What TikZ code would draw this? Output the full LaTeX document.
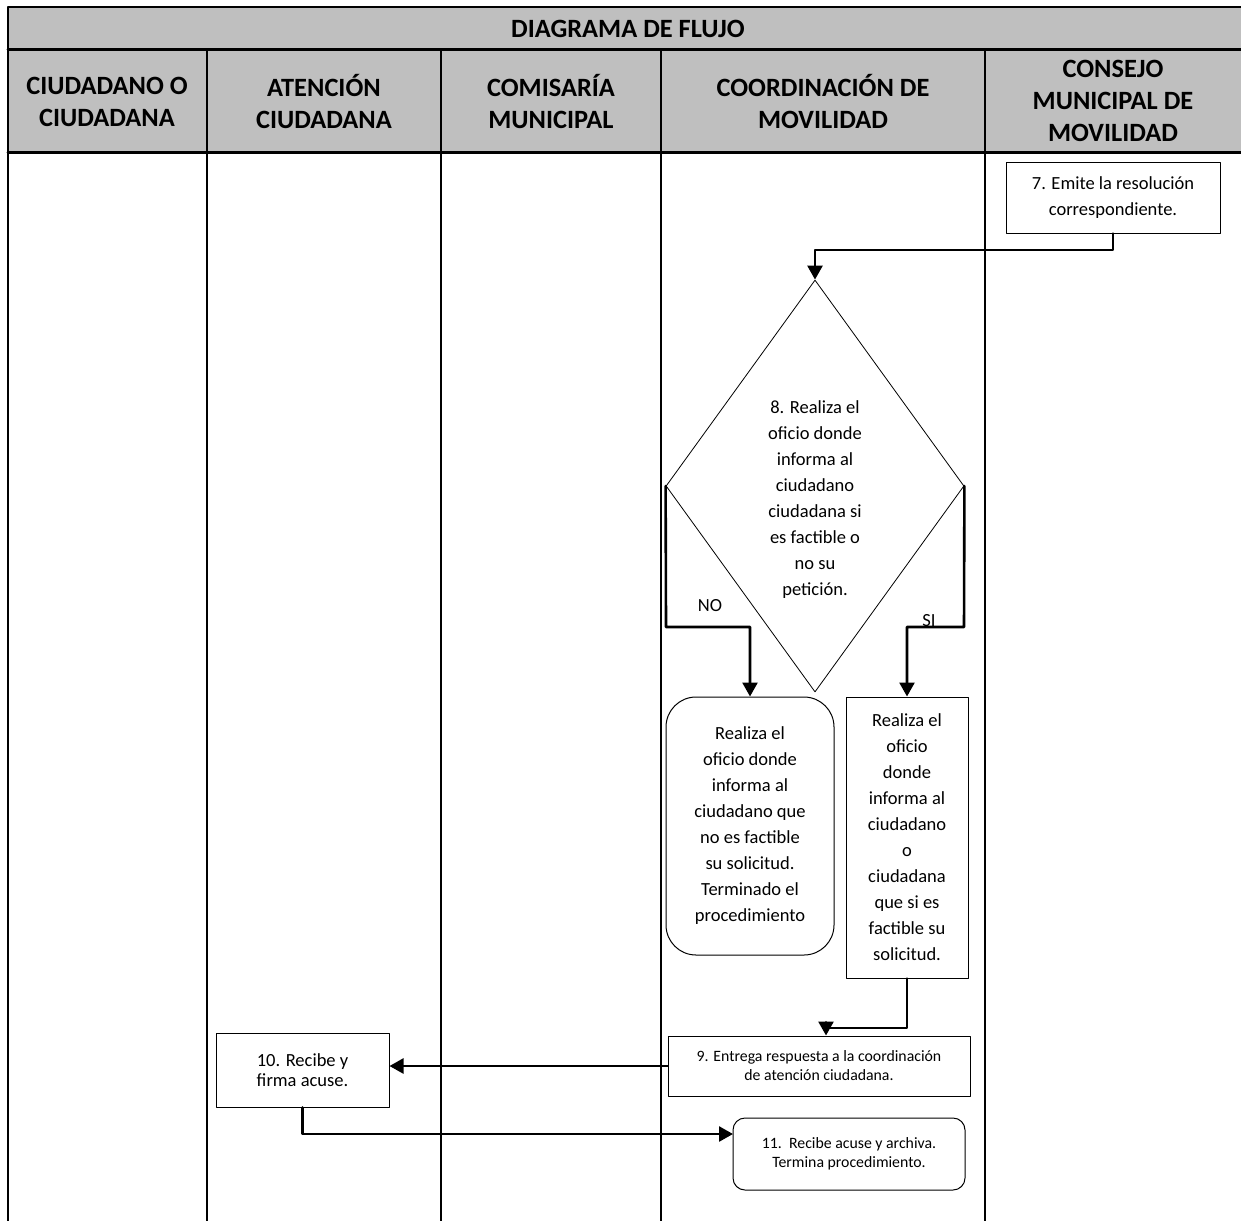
\documentclass[tikz,border=0pt]{standalone}
\usepackage{fontspec}
\setmainfont{Carlito}
\usepackage{xcolor}
\usetikzlibrary{arrows.meta, calc, shapes.geometric}
\definecolor{cabecera}{RGB}{191,191,191}

\begin{document}
\begin{tikzpicture}[x=0.5pt, y=-0.5pt, line cap=round, line join=round,
	tit/.style={font=\fontsize{13.2}{16}\selectfont\bfseries, align=center},
	caja/.style={draw, line width=0.5pt, align=center, inner sep=0pt, font=\fontsize{9.25}{13}\selectfont},
	chica/.style={caja, font=\fontsize{7.9}{9.5}\selectfont},
	etiqueta/.style={font=\fontsize{9.25}{13}\selectfont, inner sep=0pt, align=center},
	flecha/.style={line width=1.3pt, -{Triangle[length=7pt, width=7.5pt]}}]
				\clip (0,0) rectangle (1241,1220);
				\fill[cabecera] (8,7) rectangle (1250,152);
				\draw[line width=1pt] (8,1230)--(8,7)--(1250,7);
				\draw[line width=1.5pt] (8,50)--(1250,50) (8,152)--(1250,152);
				\draw[line width=1pt] (207,50)--(207,1230) (441,50)--(441,1230)
					(661,50)--(661,1230) (985,50)--(985,1230);
				
				\node[tit] (titulo) at (628,29) {DIAGRAMA DE FLUJO};
				\node[tit] (col1) at (107,102) {CIUDADANO O\\CIUDADANA};
				\node[tit] (col2) at (324,102) {ATENCIÓN\\CIUDADANA};
				\node[tit] (col3) at (551,102) {COMISARÍA\\MUNICIPAL};
				\node[tit] (col4) at (823,102) {COORDINACIÓN DE\\MOVILIDAD};
				\node[tit] (col5) at (1113,101) {CONSEJO\\MUNICIPAL DE\\MOVILIDAD};
				
				\node[caja, minimum width=107pt, minimum height=35.5pt] (p7) at (1113,197.5)
					{7. Emite la resolución\\correspondiente.};
				\node[caja, diamond, line width=0.4pt, minimum width=149pt, minimum height=206pt] (p8) at (815,486) {};
				\node[etiqueta] (p8t) at (815,500)
					{8. Realiza el\\oficio donde\\informa al\\ciudadano\\ciudadana si\\es factible o\\no su\\petición.};
				\node[caja, rounded corners=15pt, minimum width=84pt, minimum height=129pt] (pno) at (750,826)
					{Realiza el\\oficio donde\\informa al\\ciudadano que\\no es factible\\su solicitud.\\Terminado el\\procedimiento};
				\node[caja, minimum width=61pt, minimum height=140.5pt] (psi) at (907,837.5)
					{Realiza el\\oficio\\donde\\informa al\\ciudadano\\o\\ciudadana\\que si es\\factible su\\solicitud.};
				\node[chica, minimum width=151pt, minimum height=30pt] (p9) at (819,1066)
					{9. Entrega respuesta a la coordinación\\de atención ciudadana.};
				\node[caja, font=\fontsize{9.25}{10}\selectfont, minimum width=86.5pt, minimum height=37pt] (p10) at (302.5,1070)
					{10. Recibe y\\firma acuse.};
				\node[chica, rounded corners=6pt, minimum width=116pt, minimum height=36pt] (p11) at (849,1154)
					{11.\ \ Recibe acuse y archiva.\\Termina procedimiento.};
				
				\coordinate (a1) at (815,250);
				\coordinate (a2) at (666,627);
				\coordinate (a3) at (964,627);
				\coordinate (a4) at (826,1028);
				\coordinate (a5) at (733,1134);
				
				\draw[flecha] (p7.south) |- (a1) -- (p8.north);
				\draw[flecha] (p8.west) -- (a2) -| (pno.north);
				\draw[flecha] (p8.east) -- (a3) -| (psi.north);
				\draw[flecha] (psi.south) |- (a4) -- (a4 |- p9.north);
				\draw[flecha] (p9.west) -- (p9.west -| p10.east);
				\draw[flecha] (p10.south) |- (a5);
				
				\node[etiqueta] (no) at (710,606) {NO};
				\node[etiqueta] (si) at (929,621) {SI};
			\end{tikzpicture}
\end{document}
